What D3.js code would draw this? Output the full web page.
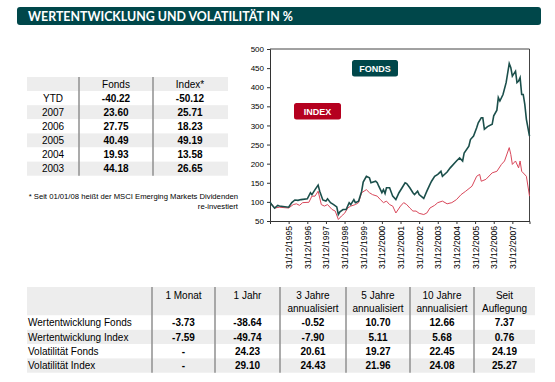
<!DOCTYPE html>
<html>
<head>
<meta charset="utf-8">
<script src="https://cdn.jsdelivr.net/npm/d3@7"></script>
<style>
  body { margin: 0; background: #fff; }
  text { font-family: "Liberation Sans", Arial, sans-serif; }
</style>
</head>
<body>
<div id="d3container"></div>
<script>
const title = "WERTENTWICKLUNG UND VOLATILITÄT IN %";

// Jahreswerte (Tabelle oben links)
const years = ["YTD", "2007", "2006", "2005", "2004", "2003"];
const fondsYear = ["-40.22", "23.60", "27.75", "40.49", "19.93", "44.18"];
const indexYear = ["-50.12", "25.71", "18.23", "49.19", "13.58", "26.65"];
const footnote1 = "* Seit 01/01/08 heißt der MSCI Emerging Markets Dividenden";
const footnote2 = "re-investiert";

// Tabelle unten
const perfCols = [["1 Monat"], ["1 Jahr"], ["3 Jahre", "annualisiert"], ["5 Jahre", "annualisiert"], ["10 Jahre", "annualisiert"], ["Seit", "Auflegung"]];
const perfRows = ["Wertentwicklung Fonds", "Wertentwicklung Index", "Volatilität Fonds", "Volatilität Index"];
const wertFonds = ["-3.73", "-38.64", "-0.52", "10.70", "12.66", "7.37"];
const wertIndex = ["-7.59", "-49.74", "-7.90", "5.11", "5.68", "0.76"];
const volaFonds = ["-", "24.23", "20.61", "19.27", "22.45", "24.19"];
const volaIndex = ["-", "29.10", "24.43", "21.96", "24.08", "25.27"];

// Kursverlauf: Monate seit 31/12/1994 und Werte
const fondsMonths = [0,1,3,5,6,12,14,16,18,20,24,26,27,29,31,32,34,36,37,39,41,43,44,45,47,49,51,52,54,55,57,59,60,62,64,65,68,69,70,72,73,74,75,77,79,81,83,85,87,88,90,92,93,95,96,99,101,103,104,106,108,110,111,114,116,120,122,124,125,128,129,131,133,134,136,137,138,140,143,144,146,147,148,150,152,154,155,156,158,159,160,161,162,163,164,165,167];
const fondsValues = [100,93,84,91,89,86,98,105,104,106,108,124,119,132,144,128,105,102,108,98,93,87,67,74,80,80,98,93,106,98,102,128,152,167,163,150,154,150,141,124,132,122,137,137,115,106,124,137,150,148,137,124,119,128,119,109,128,146,154,167,172,180,167,178,189,207,215,207,228,246,263,272,294,307,320,320,290,297,303,325,340,373,364,381,412,462,451,429,442,412,416,425,381,381,355,316,272];
const indexMonths = [0,3,6,12,15,17,19,21,25,27,29,31,33,35,37,40,42,44,46,48,50,52,55,57,59,62,64,66,69,71,73,75,77,79,81,84,86,88,90,92,94,96,99,101,103,106,108,111,114,117,120,123,126,130,133,135,136,139,143,146,149,151,154,155,156,158,160,161,162,165,167];
const indexValues = [100,84,86,84,93,95,91,98,99,115,115,128,93,89,93,80,76,54,63,70,84,89,93,98,124,132,124,119,115,106,98,102,93,89,71,89,98,93,84,76,76,70,67,71,84,91,98,102,95,98,106,119,128,141,167,172,154,159,176,180,198,207,242,224,198,207,189,207,180,167,115];

const yTicks = [50, 100, 150, 200, 250, 300, 350, 400, 450, 500];
const tickYears = [1995, 1996, 1997, 1998, 1999, 2000, 2001, 2002, 2003, 2004, 2005, 2006, 2007];

const teal = "#00474a";
const red = "#b5001f";
const grey = "#ededed";
const sepColor = "#8f8f8f";

const svg = d3.select("#d3container")
  .append("svg")
  .attr("width", 555)
  .attr("height", 382);

svg.append("rect").attr("width", 555).attr("height", 382).attr("fill", "#fff");

// Titelbalken
svg.append("rect")
  .attr("x", 17).attr("y", 7)
  .attr("width", 524).attr("height", 18)
  .attr("rx", 3)
  .attr("fill", teal);
svg.append("text")
  .attr("x", 28).attr("y", 20.8)
  .attr("fill", "#fff")
  .attr("font-weight", "bold")
  .attr("font-size", 12.5)
  .style("font-family", "Lato, 'Liberation Sans', sans-serif")
  .attr("textLength", 265)
  .attr("lengthAdjust", "spacingAndGlyphs")
  .text(title);

// ---- Tabelle oben links ----
const t1 = { x0: 27, x1: 228, top: 77, rowH: 14.1 };
const t1Rows = [["", "Fonds", "Index*"]].concat(years.map((y, i) => [y, fondsYear[i], indexYear[i]]));
const t1ColX = [53, 116, 190];

const g1 = svg.append("g");
g1.selectAll("rect.row")
  .data(t1Rows)
  .enter().append("rect")
  .attr("class", "row")
  .attr("x", t1.x0)
  .attr("y", (d, i) => t1.top + i * t1.rowH)
  .attr("width", t1.x1 - t1.x0)
  .attr("height", t1.rowH)
  .attr("fill", (d, i) => i % 2 === 0 ? grey : "#fff");

t1Rows.forEach((row, i) => {
  row.forEach((cell, j) => {
    g1.append("text")
      .attr("x", t1ColX[j])
      .attr("y", t1.top + i * t1.rowH + t1.rowH / 2 + 3.6)
      .attr("text-anchor", "middle")
      .attr("font-size", 10)
      .attr("font-weight", i > 0 && j > 0 ? "bold" : "normal")
      .attr("fill", "#000")
      .text(cell);
  });
});
[79, 153].forEach(x => {
  g1.append("line")
    .attr("x1", x).attr("x2", x)
    .attr("y1", t1.top).attr("y2", t1.top + t1Rows.length * t1.rowH)
    .attr("stroke", sepColor).attr("stroke-width", 1.5);
});

svg.append("text")
  .attr("x", 238).attr("y", 199)
  .attr("text-anchor", "end")
  .attr("font-size", 7.7)
  .text(footnote1);
svg.append("text")
  .attr("x", 238).attr("y", 209)
  .attr("text-anchor", "end")
  .attr("font-size", 7.7)
  .text(footnote2);

// ---- Liniendiagramm ----
const start = new Date(1994, 11, 31);
const toDate = m => d3.timeMonth.offset(start, m);
const plot = { left: 270, right: 529.5, top: 49, bottom: 221 };

const x = d3.scaleTime()
  .domain([start, toDate(167)])
  .range([plot.left, plot.right]);
const y = d3.scaleLinear()
  .domain([50, 500])
  .range([plot.bottom, plot.top]);

const chart = svg.append("g");

// Rahmen oben / rechts
chart.append("path")
  .attr("d", `M${plot.left},${plot.top}H${plot.right}V${plot.bottom}`)
  .attr("fill", "none")
  .attr("stroke", "#444")
  .attr("stroke-width", 1);

const yAxis = chart.append("g")
  .attr("transform", `translate(${plot.left},0)`)
  .call(d3.axisLeft(y).tickValues(yTicks).tickSize(3).tickPadding(3));
yAxis.select(".domain").attr("stroke", "#333");
yAxis.selectAll("line").attr("stroke", "#333");
yAxis.selectAll("text")
  .attr("font-size", 8)
  .attr("fill", "#000")
  .style("font-family", "'Liberation Sans', Arial, sans-serif");

const xAxis = chart.append("g")
  .attr("transform", `translate(0,${plot.bottom})`)
  .call(d3.axisBottom(x)
    .tickValues(tickYears.map(yr => new Date(yr, 11, 31)))
    .tickSize(3)
    .tickSizeOuter(3)
    .tickFormat(d3.timeFormat("%d/%m/%Y")));
xAxis.select(".domain").attr("stroke", "#333");
xAxis.selectAll("line").attr("stroke", "#333");
xAxis.selectAll("text")
  .attr("font-size", 8.6)
  .attr("fill", "#000")
  .style("font-family", "'Liberation Sans', Arial, sans-serif")
  .style("text-anchor", "end")
  .attr("transform", "rotate(-90)")
  .attr("x", -5)
  .attr("y", 0)
  .attr("dy", "0.35em");

const line = d3.line()
  .x(d => x(toDate(d[0])))
  .y(d => y(d[1]));

chart.append("path")
  .datum(indexMonths.map((m, i) => [m, indexValues[i]]))
  .attr("fill", "none")
  .attr("stroke", "#d9475a")
  .attr("stroke-width", 1)
  .attr("d", line);

chart.append("path")
  .datum(fondsMonths.map((m, i) => [m, fondsValues[i]]))
  .attr("fill", "none")
  .attr("stroke", "#1b4f4b")
  .attr("stroke-width", 1.6)
  .attr("d", line);

// Legende
const legend = [
  { label: "FONDS", x: 352, y: 60, w: 46, color: teal },
  { label: "INDEX", x: 294, y: 103, w: 47, color: red }
];
legend.forEach(l => {
  chart.append("rect")
    .attr("x", l.x).attr("y", l.y)
    .attr("width", l.w).attr("height", 16.5)
    .attr("rx", 2.5)
    .attr("fill", l.color);
  chart.append("text")
    .attr("x", l.x + l.w / 2).attr("y", l.y + 12)
    .attr("text-anchor", "middle")
    .attr("font-size", 9)
    .attr("font-weight", "bold")
    .attr("fill", "#fff")
    .text(l.label);
});

// ---- Tabelle unten ----
const t2 = { x0: 27, x1: 535, top: 287, headH: 28.5, rowH: 14.3 };
const sepX = [152, 215, 280, 346, 410, 474, 535];
const colCenter = sepX.slice(0, 6).map((s, i) => (s + sepX[i + 1]) / 2);
const bodyRows = [wertFonds, wertIndex, volaFonds, volaIndex];
const g2 = svg.append("g");

g2.append("rect")
  .attr("x", t2.x0).attr("y", t2.top)
  .attr("width", t2.x1 - t2.x0).attr("height", t2.headH)
  .attr("fill", grey);
bodyRows.forEach((vals, i) => {
  const ry = t2.top + t2.headH + i * t2.rowH;
  g2.append("rect")
    .attr("x", t2.x0).attr("y", ry)
    .attr("width", t2.x1 - t2.x0).attr("height", t2.rowH)
    .attr("fill", i % 2 === 1 ? grey : "#fff");
  g2.append("text")
    .attr("x", 28).attr("y", ry + t2.rowH / 2 + 3.6)
    .attr("font-size", 10)
    .text(perfRows[i]);
  vals.forEach((v, j) => {
    g2.append("text")
      .attr("x", colCenter[j]).attr("y", ry + t2.rowH / 2 + 3.6)
      .attr("text-anchor", "middle")
      .attr("font-size", 10)
      .attr("font-weight", "bold")
      .text(v);
  });
});
perfCols.forEach((lines, j) => {
  lines.forEach((ln, k) => {
    g2.append("text")
      .attr("x", colCenter[j]).attr("y", 298.5 + k * 13)
      .attr("text-anchor", "middle")
      .attr("font-size", 10)
      .text(ln);
  });
});
sepX.slice(0, 6).forEach(sx => {
  g2.append("line")
    .attr("x1", sx).attr("x2", sx)
    .attr("y1", t2.top).attr("y2", t2.top + t2.headH + 4 * t2.rowH)
    .attr("stroke", sepColor).attr("stroke-width", 1.5);
});
</script>
</body>
</html>
